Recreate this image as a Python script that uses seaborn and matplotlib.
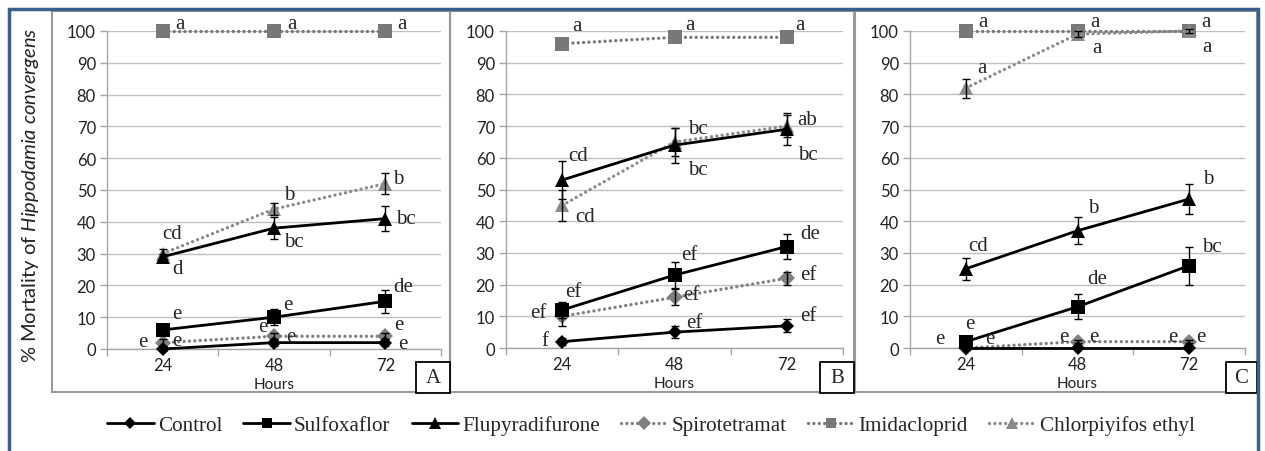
import numpy as np
import pandas as pd
import seaborn as sns
import matplotlib
matplotlib.use("Agg")
import matplotlib.pyplot as plt
from matplotlib.patches import Rectangle
from matplotlib.lines import Line2D

# ---------------- data ----------------
hours = ["24", "48", "72"]
treatments = ["Control", "Sulfoxaflor", "Flupyradifurone",
              "Spirotetramat", "Imidacloprid", "Chlorpiyifos ethyl"]
panel_names = ["A", "B", "C"]

# Panel A
a_control = [0, 2, 2]
a_sulfoxaflor = [6, 10, 15]
a_flupyradifurone = [29, 38, 41]
a_spirotetramat = [2, 4, 4]
a_imidacloprid = [100, 100, 100]
a_chlorpyrifos = [30, 44, 52]
a_err_control = [0.6, 1, 1]
a_err_sulfoxaflor = [1, 2.5, 3.7]
a_err_flupyradifurone = [1, 3.5, 4]
a_err_spirotetramat = [1, 1, 1]
a_err_imidacloprid = [0, 0, 0]
a_err_chlorpyrifos = [1.5, 2, 3.3]
a_let_control = ["e", "e", "e"]
a_let_sulfoxaflor = ["e", "e", "de"]
a_let_flupyradifurone = ["d", "bc", "bc"]
a_let_spirotetramat = ["e", "e", "e"]
a_let_imidacloprid = ["a", "a", "a"]
a_let_chlorpyrifos = ["cd", "b", "b"]

# Panel B
b_control = [2, 5, 7]
b_sulfoxaflor = [12, 23, 32]
b_flupyradifurone = [53, 64, 69]
b_spirotetramat = [10, 16, 22]
b_imidacloprid = [96, 98, 98]
b_chlorpyrifos = [45, 65, 70]
b_err_control = [1, 2, 2]
b_err_sulfoxaflor = [2.5, 4, 4]
b_err_flupyradifurone = [6, 5.5, 5]
b_err_spirotetramat = [3, 2.5, 2]
b_err_imidacloprid = [0, 0, 0]
b_err_chlorpyrifos = [5, 4.5, 3.5]
b_let_control = ["f", "ef", "ef"]
b_let_sulfoxaflor = ["ef", "ef", "de"]
b_let_flupyradifurone = ["cd", "bc", "bc"]
b_let_spirotetramat = ["ef", "ef", "ef"]
b_let_imidacloprid = ["a", "a", "a"]
b_let_chlorpyrifos = ["cd", "bc", "ab"]

# Panel C
c_control = [0, 0, 0]
c_sulfoxaflor = [2, 13, 26]
c_flupyradifurone = [25, 37, 47]
c_spirotetramat = [0, 2, 2]
c_imidacloprid = [100, 100, 100]
c_chlorpyrifos = [82, 99, 100]
c_err_control = [0, 0, 0]
c_err_sulfoxaflor = [1, 4, 6]
c_err_flupyradifurone = [3.5, 4.3, 4.7]
c_err_spirotetramat = [0.5, 0.5, 0.5]
c_err_imidacloprid = [0, 0, 0]
c_err_chlorpyrifos = [3, 1, 0.5]
c_let_control = ["e", "e", "e"]
c_let_sulfoxaflor = ["e", "de", "bc"]
c_let_flupyradifurone = ["cd", "b", "b"]
c_let_spirotetramat = ["e", "e", "e"]
c_let_imidacloprid = ["a", "a", "a"]
c_let_chlorpyrifos = ["a", "a", "a"]

values = {
    "A": [a_control, a_sulfoxaflor, a_flupyradifurone, a_spirotetramat, a_imidacloprid, a_chlorpyrifos],
    "B": [b_control, b_sulfoxaflor, b_flupyradifurone, b_spirotetramat, b_imidacloprid, b_chlorpyrifos],
    "C": [c_control, c_sulfoxaflor, c_flupyradifurone, c_spirotetramat, c_imidacloprid, c_chlorpyrifos],
}
errors = {
    "A": [a_err_control, a_err_sulfoxaflor, a_err_flupyradifurone, a_err_spirotetramat, a_err_imidacloprid, a_err_chlorpyrifos],
    "B": [b_err_control, b_err_sulfoxaflor, b_err_flupyradifurone, b_err_spirotetramat, b_err_imidacloprid, b_err_chlorpyrifos],
    "C": [c_err_control, c_err_sulfoxaflor, c_err_flupyradifurone, c_err_spirotetramat, c_err_imidacloprid, c_err_chlorpyrifos],
}
letters = {
    "A": [a_let_control, a_let_sulfoxaflor, a_let_flupyradifurone, a_let_spirotetramat, a_let_imidacloprid, a_let_chlorpyrifos],
    "B": [b_let_control, b_let_sulfoxaflor, b_let_flupyradifurone, b_let_spirotetramat, b_let_imidacloprid, b_let_chlorpyrifos],
    "C": [c_let_control, c_let_sulfoxaflor, c_let_flupyradifurone, c_let_spirotetramat, c_let_imidacloprid, c_let_chlorpyrifos],
}

# ---------------- layout / style (positions in pixels) ----------------
W, H = 1265, 452
letter_offsets = {
    "A": [[(-20, 7), (17, 6), (17, -1)],
          [(14, 16), (14, 13), (18, 15)],
          [(15, -12), (20, -13), (20, 0)],
          [(14, 2), (-11, 10), (13, 12)],
          [(17, 7), (18, 7), (17, 7)],
          [(9, 20), (15, 15), (13, 5)]],
    "B": [[(-17, 1), (20, 10), (21, 10)],
          [(11, 18), (15, 21), (23, 13)],
          [(16, 24), (23, -24), (21, -25)],
          [(-24, 4), (17, 3), (21, 4)],
          [(15, 18), (15, 13), (13, 13)],
          [(23, -11), (23, 13), (20, 7)]],
    "C": [[(-26, 9), (-14, 11), (-16, 11)],
          [(4, 18), (20, 28), (23, 19)],
          [(12, 23), (16, 23), (19, 21)],
          [(24, 9), (16, 5), (12, 5)],
          [(17, 9), (17, 9), (17, 9)],
          [(16, 21), (19, -13), (18, -16)]],
}

styles = [
    dict(color="black", linestyle="-", marker="D", markersize=7.5, lw=2.0),
    dict(color="black", linestyle="-", marker="s", markersize=9.5, lw=2.0),
    dict(color="black", linestyle="-", marker="^", markersize=10.5, lw=2.0),
    dict(color="#808080", linestyle=(0, (0.01, 1.6)), marker="D", markersize=8.5, lw=2.4),
    dict(color="#787878", linestyle=(0, (0.01, 1.6)), marker="s", markersize=9.5, lw=2.4),
    dict(color="#8a8a8a", linestyle=(0, (0.01, 1.6)), marker="^", markersize=10.5, lw=2.4),
]

axes_px = {  # left, right, top(y=100), bottom(y=0)
    "A": (107, 441, 32, 350),
    "B": (506, 843, 32, 349),
    "C": (910, 1245, 32, 349),
}
panel_boxes = {"A": (52, 12, 450, 393), "B": (450, 12, 854, 393), "C": (855, 12, 1257, 393)}
letter_boxes = {"A": (416, 363, 450, 394), "B": (820, 363, 854, 394), "C": (1226, 363, 1257, 394)}

sns.set_style("white")
plt.rcParams["font.family"] = ["Lato", "DejaVu Sans"]
plt.rcParams["mathtext.fontset"] = "custom"
plt.rcParams["mathtext.rm"] = "Lato"
plt.rcParams["mathtext.it"] = "Lato:italic"

fig = plt.figure(figsize=(W / 100, H / 100), dpi=100)
fig.patch.set_facecolor("white")

def fx(x):
    return x / W

def fy(y):
    return 1 - y / H

xpos = np.arange(len(hours))

for p in panel_names:
    l, r, t, b = axes_px[p]
    ax = fig.add_axes([fx(l), fy(b), (r - l) / W, (b - t) / H])
    ax.set_facecolor("none")
    for i, name in enumerate(treatments):
        st = styles[i]
        df = pd.DataFrame({"x": xpos, "y": values[p][i]})
        sns.lineplot(data=df, x="x", y="y", ax=ax, color=st["color"],
                     linestyle=st["linestyle"], linewidth=st["lw"],
                     marker=st["marker"], markersize=st["markersize"],
                     markeredgewidth=0, dash_capstyle="round",
                     clip_on=False, zorder=3 + (0 if i >= 3 else 1))
        err = np.array(errors[p][i], dtype=float)
        if err.max() > 0:
            ax.errorbar(xpos, values[p][i], yerr=err, fmt="none", ecolor="black",
                        elinewidth=1, capsize=3, capthick=1, zorder=5, clip_on=False)
        for j, lab in enumerate(letters[p][i]):
            dx, dy = letter_offsets[p][i][j]
            ax.annotate(lab, xy=(xpos[j], values[p][i][j]), xytext=(dx, dy),
                        textcoords="offset pixels", ha="center", va="center",
                        fontsize=15, family=["Liberation Serif"],
                        annotation_clip=False, zorder=6)
    ax.set_xlim(-0.5, len(hours) - 0.5)
    ax.set_ylim(0, 100)
    ax.set_yticks(np.arange(0, 101, 10))
    ax.set_xticks(xpos)
    ax.set_xticklabels(hours)
    ax.set_xticks(np.arange(len(hours) + 1) - 0.5, minor=True)
    ax.yaxis.grid(True, color="#c0c0c0", lw=1)
    ax.xaxis.grid(False)
    ax.set_axisbelow(True)
    for s in ["top", "right"]:
        ax.spines[s].set_visible(False)
    for s in ["left", "bottom"]:
        ax.spines[s].set_color("#a6a6a6")
        ax.spines[s].set_linewidth(1)
    ax.tick_params(axis="y", which="major", length=5, width=1, color="#a6a6a6",
                   direction="out", labelsize=12, labelcolor="#222222", pad=3, left=True)
    ax.tick_params(axis="x", which="major", length=0, labelsize=12,
                   labelcolor="#222222", pad=6)
    ax.tick_params(axis="x", which="minor", length=5, width=1, color="#a6a6a6",
                   direction="out", bottom=True)
    ax.set_xlabel("Hours", fontsize=11, labelpad=3, color="#222222")
    ax.set_ylabel("")

# panel borders
for p in panel_names:
    x0, y0, x1, y1 = panel_boxes[p]
    fig.add_artist(Rectangle((fx(x0), fy(y1)), (x1 - x0) / W, (y1 - y0) / H,
                             transform=fig.transFigure, fill=False,
                             edgecolor="#9a9a9a", lw=1.5, zorder=1))
    bx0, by0, bx1, by1 = letter_boxes[p]
    fig.add_artist(Rectangle((fx(bx0), fy(by1)), (bx1 - bx0) / W, (by1 - by0) / H,
                             transform=fig.transFigure, facecolor="white",
                             edgecolor="black", lw=1.3, zorder=8))
    fig.text(fx((bx0 + bx1) / 2), fy((by0 + by1) / 2), p, ha="center", va="center",
             fontsize=15, family=["Liberation Serif"], zorder=9)

# outer frame
fig.add_artist(Rectangle((fx(8.5), fy(470)), (1257.5 - 8.5) / W, (470 - 10) / H,
                         transform=fig.transFigure, fill=False,
                         edgecolor="#3d5f8f", lw=2.5, zorder=10, clip_on=False))

# y label
fig.text(fx(31), fy(195), "% Mortality of $Hippodamia$ $convergens$", rotation=90,
         ha="center", va="center", fontsize=14.5, color="#222222")

# legend
handles = []
for i, name in enumerate(treatments):
    st = styles[i]
    handles.append(Line2D([0], [0], color=st["color"], linestyle=st["linestyle"],
                          lw=st["lw"], marker=st["marker"],
                          markersize=st["markersize"] * 0.8, markeredgewidth=0,
                          dash_capstyle="round"))
fig.legend(handles, treatments, loc="center", bbox_to_anchor=(fx(651), fy(426)),
           ncol=6, frameon=False, prop={"family": "Liberation Serif", "size": 15.2},
           handlelength=2.2, handletextpad=0.2, columnspacing=1.0)

fig.savefig("out.png", dpi=100, facecolor="white")
